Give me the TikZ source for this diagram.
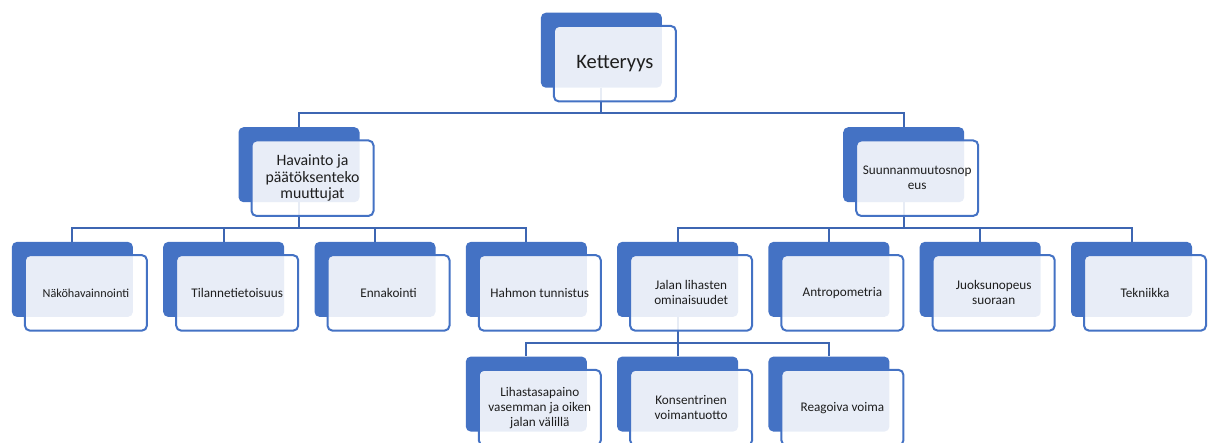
\documentclass[tikz,border=0pt]{standalone}
\usepackage{fontspec}
\setmainfont{Carlito}
\usetikzlibrary{backgrounds}
\definecolor{accent}{HTML}{4472C4}
\definecolor{connc}{HTML}{3D66B2}
\definecolor{txt}{HTML}{1E1E1E}
\tikzset{
  backbox/.style={fill=accent, rounded corners=5pt, minimum width=121pt, minimum height=75pt, inner sep=0pt, anchor=north west},
  frontbox/.style={draw=accent, line width=2pt, fill=white, fill opacity=0.88, text opacity=1, rounded corners=5pt,
    minimum width=122pt, minimum height=75.5pt, inner sep=1pt, align=center, text=txt},
  conn/.style={draw=connc, line width=2pt},
  fbig/.style={font=\fontsize{20.5}{24}\selectfont},
  fmid/.style={font=\fontsize{15.8}{16.5}\selectfont},
  fsmall/.style={font=\fontsize{13.2}{15}\selectfont},
  ftiny/.style={font=\fontsize{12.2}{15}\selectfont},
}
\newcommand\hierbox[5]{%
  \node[backbox] (#1b) at (#2,#3) {};
  \node[frontbox,#5] (#1) at ([shift={(13.5,13.5)}]#1b.center) {#4};
}
\begin{document}
\begin{tikzpicture}[x=1pt,y=-1pt]
\useasboundingbox (0,0) rectangle (1214,443);
% bars
\coordinate (barA) at (0,113.5);
\coordinate (barB) at (0,228);
\coordinate (barC) at (0,343.3);
% level 0
\hierbox{root}{540.7}{12.5}{Ketteryys}{fbig}
% level 1
\hierbox{hav}{238.3}{127}{Havainto ja\\päätöksenteko\\muuttujat}{fmid}
\hierbox{suu}{843}{127}{Suunnanmuutosnop\\eus}{fsmall}
% level 2
\hierbox{nak}{11.7}{241.7}{Näköhavainnointi}{ftiny}
\hierbox{til}{163}{241.7}{Tilannetietoisuus}{fsmall}
\hierbox{enn}{314.3}{241.7}{Ennakointi}{fsmall}
\hierbox{hah}{465.6}{241.7}{Hahmon tunnistus}{fsmall}
\hierbox{jal}{616.9}{241.7}{Jalan lihasten\\ominaisuudet}{fsmall}
\hierbox{ant}{768.2}{241.7}{Antropometria}{fsmall}
\hierbox{juo}{919.5}{241.7}{Juoksunopeus\\suoraan}{fsmall}
\hierbox{tek}{1070.8}{241.7}{Tekniikka}{fsmall}
% level 3
\hierbox{lih}{465.6}{356.4}{Lihastasapaino\\vasemman ja oiken\\jalan välillä}{fsmall}
\hierbox{kon}{616.9}{356.4}{Konsentrinen\\voimantuotto}{fsmall}
\hierbox{rea}{768.2}{356.4}{Reagoiva voima}{fsmall}
% connectors
\begin{scope}[on background layer]
\foreach \c in {hav,suu}{\draw[conn] (rootb.south) -- (rootb.south |- barA) -| (\c b.north);}
\foreach \c in {nak,til,enn,hah}{\draw[conn] (havb.south) -- (havb.south |- barB) -| (\c b.north);}
\foreach \c in {jal,ant,juo,tek}{\draw[conn] (suub.south) -- (suub.south |- barB) -| (\c b.north);}
\foreach \c in {lih,kon,rea}{\draw[conn] (jalb.south) -- (jalb.south |- barC) -| (\c b.north);}
\end{scope}
\end{tikzpicture}
\end{document}
